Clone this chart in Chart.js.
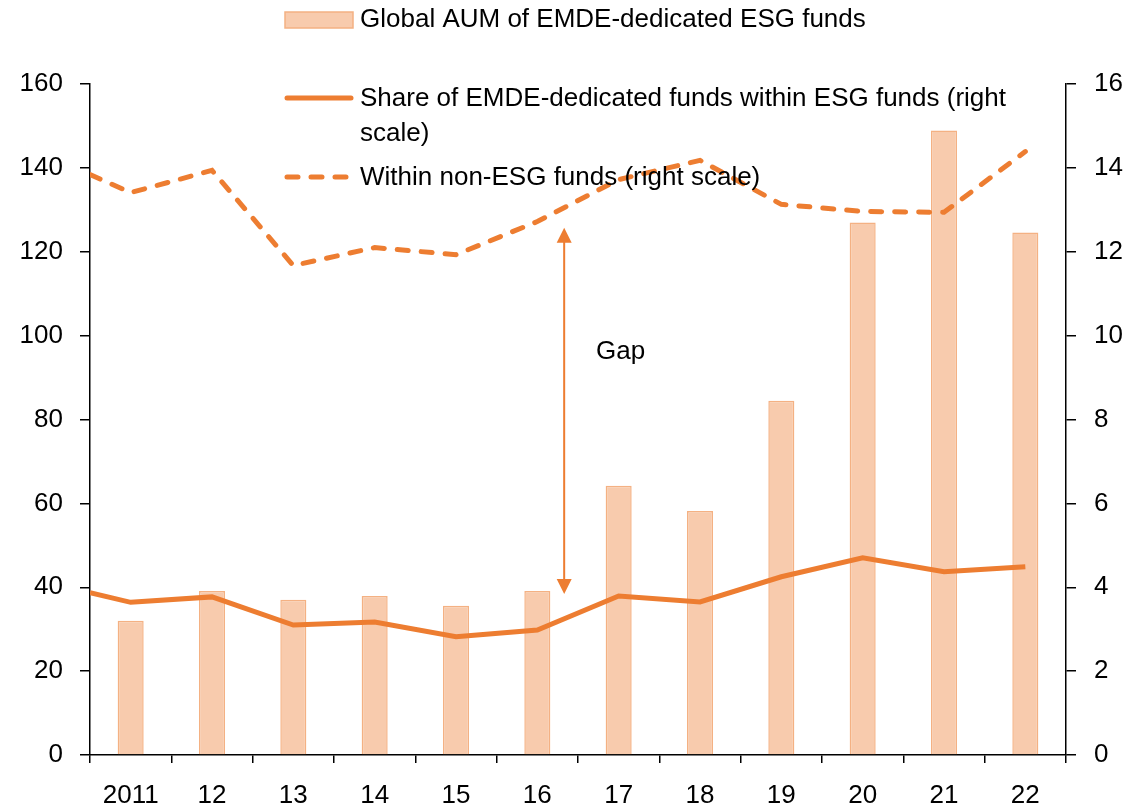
<!DOCTYPE html>
<html>
<head>
<meta charset="utf-8">
<script src="https://cdn.jsdelivr.net/npm/chart.js@4.4.1/dist/chart.umd.min.js"></script>
<style>
    html, body { margin: 0; padding: 0; background: #fff; }
    #wrap { width: 1147px; height: 810px; position: relative; }
</style>
</head>
<body>
<div id="wrap"><canvas id="esgChart" width="1147" height="810"></canvas></div>
<script>
// categories (bars) and tick labels
const years = ['2011', '12', '13', '14', '15', '16', '17', '18', '19', '20', '21', '22'];
// global AUM of EMDE-dedicated ESG funds (left scale)
const aumValues = [32.0, 39.1, 37.0, 37.9, 35.6, 39.1, 64.2, 58.2, 84.5, 127.0, 148.9, 124.6];
// line series: position in category units (first point sits on the left edge)
const linePositions = [-0.5, 0, 1, 2, 3, 4, 5, 6, 7, 8, 9, 10, 11];
const shareWithinEsg = [3.87, 3.64, 3.77, 3.10, 3.17, 2.82, 2.98, 3.79, 3.65, 4.25, 4.70, 4.37, 4.49];
const shareWithinNonEsg = [13.84, 13.41, 13.94, 11.67, 12.10, 11.93, 12.72, 13.72, 14.18, 13.13, 12.96, 12.94, 14.39];

const legendLabels = [
    ['Global AUM of EMDE-dedicated ESG funds'],
    ['Share of EMDE-dedicated funds within ESG funds (right', 'scale)'],
    ['Within non-ESG funds (right scale)']
];

const ORANGE = '#ED7D31';
const BAR_FILL = '#F8CBAD';
const BAR_EDGE = '#F4B183';
const FONT = '"Liberation Sans", Arial, sans-serif';
const FONT_SIZE = 26;

function toPoints(xs, ys) {
    return xs.map((x, i) => ({ x: x, y: ys[i] }));
}

// legend + "Gap" arrow drawn straight onto the canvas
const extras = {
    id: 'extras',
    afterDatasetsDraw(chart) {
        let ctx = chart.ctx;
        let x2 = chart.scales.x2, y2 = chart.scales.y2;
        ctx.save();

        // gap arrow
        let ax = x2.getPixelForValue(5.33);
        let top = y2.getPixelForValue(12.57);
        let bot = y2.getPixelForValue(3.84);
        ctx.strokeStyle = ORANGE;
        ctx.fillStyle = ORANGE;
        ctx.lineWidth = 2;
        ctx.beginPath();
        ctx.moveTo(ax, top + 12);
        ctx.lineTo(ax, bot - 12);
        ctx.stroke();
        ctx.beginPath();
        ctx.moveTo(ax, top);
        ctx.lineTo(ax - 7.5, top + 15);
        ctx.lineTo(ax + 7.5, top + 15);
        ctx.closePath();
        ctx.fill();
        ctx.beginPath();
        ctx.moveTo(ax, bot);
        ctx.lineTo(ax - 7.5, bot - 15);
        ctx.lineTo(ax + 7.5, bot - 15);
        ctx.closePath();
        ctx.fill();

        ctx.font = FONT_SIZE + 'px ' + FONT;
        ctx.fillStyle = '#000';
        ctx.textBaseline = 'middle';
        ctx.textAlign = 'left';
        ctx.fillText('Gap', 596, 352);

        // legend
        let lx = 285, lw = 68, tx = 360;
        ctx.fillStyle = BAR_FILL;
        ctx.strokeStyle = BAR_EDGE;
        ctx.lineWidth = 1.5;
        ctx.fillRect(lx, 12, lw, 16);
        ctx.strokeRect(lx, 12, lw, 16);

        ctx.strokeStyle = ORANGE;
        ctx.lineWidth = 5;
        ctx.lineCap = 'round';
        ctx.beginPath();
        ctx.moveTo(lx + 2, 98);
        ctx.lineTo(lx + lw - 2, 98);
        ctx.stroke();

        ctx.setLineDash([11, 13]);
        ctx.beginPath();
        ctx.moveTo(lx + 2, 177);
        ctx.lineTo(lx + lw - 2, 177);
        ctx.stroke();
        ctx.setLineDash([]);

        ctx.fillStyle = '#000';
        ctx.fillText(legendLabels[0][0], tx, 20);
        ctx.fillText(legendLabels[1][0], tx, 99);
        ctx.fillText(legendLabels[1][1], tx, 134);
        ctx.fillText(legendLabels[2][0], tx, 178);
        ctx.restore();
    }
};

let ctx = document.getElementById('esgChart').getContext('2d');
let esgChart = new Chart(ctx, {
    type: 'bar',
    data: {
        labels: years,
        datasets: [
            {
                type: 'line',
                label: 'Within non-ESG funds (right scale)',
                data: toPoints(linePositions, shareWithinNonEsg),
                xAxisID: 'x2',
                yAxisID: 'y2',
                borderColor: ORANGE,
                borderWidth: 5,
                borderDash: [11, 13],
                borderCapStyle: 'round',
                pointRadius: 0,
                tension: 0,
                order: 1
            },
            {
                type: 'line',
                label: 'Share of EMDE-dedicated funds within ESG funds (right scale)',
                data: toPoints(linePositions, shareWithinEsg),
                xAxisID: 'x2',
                yAxisID: 'y2',
                borderColor: ORANGE,
                borderWidth: 5,
                pointRadius: 0,
                tension: 0,
                order: 1
            },
            {
                label: 'Global AUM of EMDE-dedicated ESG funds',
                data: aumValues,
                xAxisID: 'x',
                yAxisID: 'y',
                backgroundColor: BAR_FILL,
                borderColor: BAR_EDGE,
                borderWidth: 1.5,
                grouped: false,
                categoryPercentage: 1,
                barPercentage: 0.32,
                order: 2
            }
        ]
    },
    options: {
        responsive: false,
        animation: false,
        layout: { padding: { top: 84, left: 0, right: 0, bottom: 0 } },
        plugins: {
            legend: { display: false },
            tooltip: { enabled: false }
        },
        scales: {
            x: {
                position: 'bottom',
                offset: true,
                afterFit: (s) => { s.height = 55; },
                grid: {
                    offset: true,
                    drawOnChartArea: false,
                    drawTicks: true,
                    tickLength: 8,
                    lineWidth: 1.5,
                    color: '#000'
                },
                border: { color: '#000', width: 1.5 },
                ticks: {
                    color: '#000',
                    font: { family: FONT, size: FONT_SIZE },
                    padding: 17,
                    maxRotation: 0
                }
            },
            x2: {
                type: 'linear',
                display: false,
                offset: false,
                min: -0.5,
                max: 11.5
            },
            y: {
                position: 'left',
                min: 0,
                max: 160,
                afterFit: (s) => { s.width = 90; },
                grid: {
                    drawOnChartArea: false,
                    tickLength: 10,
                    lineWidth: 1.5,
                    color: '#000'
                },
                border: { color: '#000', width: 1.5 },
                ticks: {
                    stepSize: 20,
                    color: '#000',
                    font: { family: FONT, size: FONT_SIZE },
                    padding: 17
                }
            },
            y2: {
                position: 'right',
                min: 0,
                max: 16,
                afterFit: (s) => { s.width = 81; },
                grid: {
                    drawOnChartArea: false,
                    tickLength: 10,
                    lineWidth: 1.5,
                    color: '#000'
                },
                border: { color: '#000', width: 1.5 },
                ticks: {
                    stepSize: 2,
                    color: '#000',
                    font: { family: FONT, size: FONT_SIZE },
                    padding: 18
                }
            }
        }
    },
    plugins: [extras]
});
</script>
</body>
</html>
